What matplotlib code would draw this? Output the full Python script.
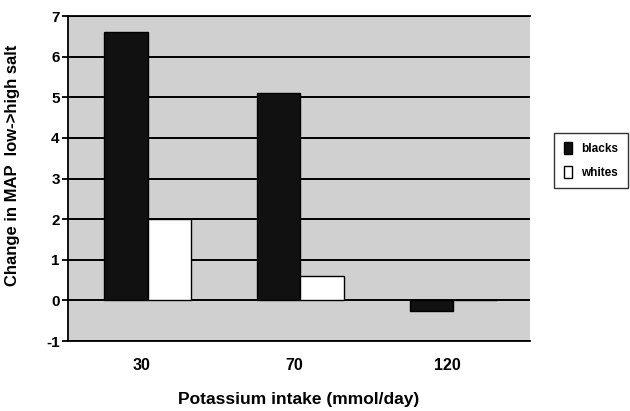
import numpy as np
import matplotlib.pyplot as plt

plt.rcParams['font.family'] = ['Liberation Sans', 'DejaVu Sans']
plt.rcParams['axes.unicode_minus'] = False

# data
intake = ['30', '70', '120']
blacks = [6.6, 5.1, -0.25]
whites = [2.0, 0.6, 0.0]

fig = plt.figure(figsize=(6.3, 4.11), dpi=100)
ax = fig.add_axes([0.108, 0.170, 0.733, 0.791])
ax.set_facecolor('#d0d0d0')

x = np.arange(len(intake))
w = 0.285
ax.set_axisbelow(True)
ax.yaxis.grid(True, color='black', linewidth=1.4)
ax.bar(x - w / 2, blacks, w, color='#111111', edgecolor='black', linewidth=1, label='blacks', zorder=3)
ax.bar(x + w / 2, whites, w, color='white', edgecolor='black', linewidth=1, label='whites', zorder=3)

ax.set_xlim(-0.52, 2.5)
ax.set_ylim(-1, 7)
ax.set_yticks(range(-1, 8))
ax.set_xticks(x - 0.04)
ax.set_xticklabels(intake)
ax.tick_params(axis='x', length=0, pad=12, labelsize=11.5)
ax.tick_params(axis='y', length=4, width=1.3, direction='out', labelsize=11, pad=2)
for lab in ax.get_xticklabels() + ax.get_yticklabels():
    lab.set_fontweight('bold')

for s in ax.spines.values():
    s.set_linewidth(1.3)
ax.spines['right'].set_visible(False)

ax.set_ylabel('Change in MAP  low->high salt', fontsize=12, fontweight='bold')
ax.yaxis.set_label_coords(-0.105, 0.54)
ax.set_xlabel('Potassium intake (mmol/day)', fontsize=12.5, fontweight='bold', labelpad=14)

leg = ax.legend(loc='center left', bbox_to_anchor=(1.04, 0.555), frameon=True, fancybox=False,
                edgecolor='black', prop={'weight': 'bold', 'size': 8.5},
                handlelength=0.7, handleheight=1.2, handletextpad=0.8,
                borderpad=0.8, labelspacing=0.9)
leg.get_frame().set_linewidth(1.0)

fig.savefig('out.png', dpi=100)
